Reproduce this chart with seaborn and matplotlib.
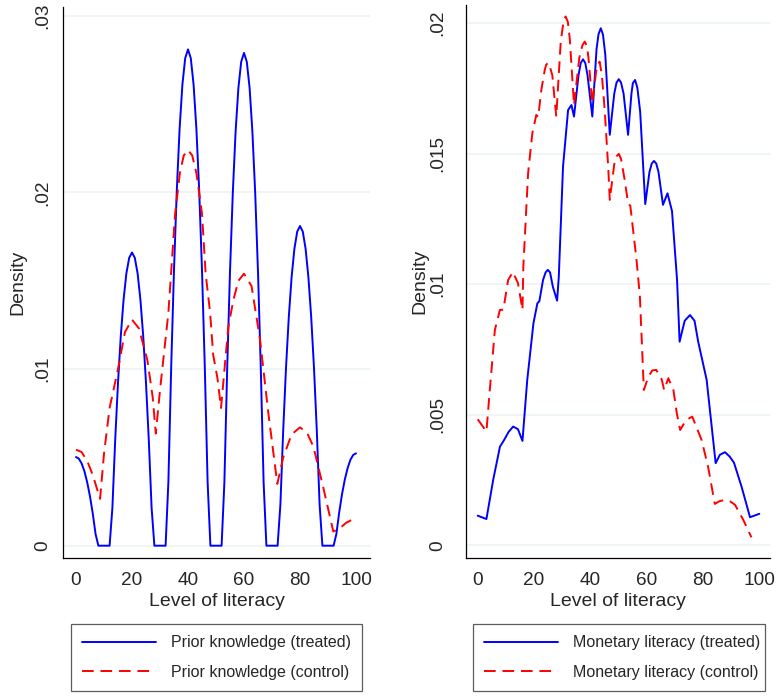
import pandas as pd
import matplotlib
matplotlib.use('Agg')
import matplotlib.pyplot as plt
import seaborn as sns

sns.set_style('white')
plt.rcParams['font.family'] = ['Liberation Sans', 'DejaVu Sans']

# left panel: prior knowledge
prior_treated_x = list(range(0, 101))
prior_treated_y = [0.00502, 0.00493, 0.00466, 0.00422, 0.00359, 0.00279, 0.00181, 0.00065,
                   0, 0, 0, 0, 0,
                   0.00214, 0.00598, 0.00922, 0.01188, 0.01394, 0.01542, 0.01630, 0.0166,
                   0.01630, 0.01542, 0.01394, 0.01188, 0.00922, 0.00598, 0.00214,
                   0, 0, 0, 0, 0,
                   0.00362, 0.01012, 0.01561, 0.02011, 0.02360, 0.02610, 0.02760, 0.0281,
                   0.02760, 0.02610, 0.02360, 0.02011, 0.01561, 0.01012, 0.00362,
                   0, 0, 0, 0, 0,
                   0.00360, 0.01004, 0.01550, 0.01997, 0.02344, 0.02592, 0.02740, 0.0279,
                   0.02740, 0.02592, 0.02344, 0.01997, 0.01550, 0.01004, 0.00360,
                   0, 0, 0, 0, 0,
                   0.00233, 0.00652, 0.01006, 0.01295, 0.01520, 0.01681, 0.01778, 0.0181,
                   0.01778, 0.01681, 0.01520, 0.01295, 0.01006, 0.00652, 0.00233,
                   0, 0, 0, 0, 0,
                   0.00067, 0.00188, 0.00291, 0.00374, 0.00439, 0.00486, 0.00514, 0.00523]

prior_control_x = [0, 2, 4, 6, 8.6, 10, 12, 15, 17.5, 20, 22.5, 25.5, 27.4, 28.5, 30, 33, 35.4,
                   37.1, 38.5, 40, 41.5, 43, 45, 46.3, 47.9, 49, 50.5, 51.8, 54.4, 56.2, 58, 60,
                   62.7, 65.7, 68.7, 71.9, 74, 77, 80, 82.5, 84.8, 88.3, 91.9, 94.3, 96.5, 98.5]
prior_control_y = [0.00544, 0.00530, 0.00480, 0.00400, 0.00265, 0.0052, 0.0078, 0.0100, 0.0121,
                   0.0128, 0.0123, 0.0105, 0.0084, 0.00635, 0.0088, 0.0132, 0.0188, 0.0211,
                   0.0221, 0.0224, 0.0221, 0.0211, 0.0188, 0.0154, 0.0132, 0.0108, 0.0095,
                   0.0078, 0.0124, 0.0139, 0.0150, 0.0154, 0.0147, 0.0117, 0.0075, 0.0035,
                   0.0050, 0.0063, 0.0067, 0.0064, 0.0056, 0.0033, 0.0008, 0.0010, 0.0013,
                   0.00146]

# right panel: monetary literacy
money_treated_x = [0, 3.1, 5.5, 7.9, 9.4, 11, 12.6, 14.3, 15.9, 17.6, 19.8, 21.2, 21.9, 23.2,
                   24.1, 24.9, 25.7, 26.7, 28.2, 28.8, 30.3, 32.1, 33.3, 34.2, 35.8, 36.6,
                   37.4, 38.2, 39, 40.7, 42.2, 42.9, 43.7, 44.5, 45.3, 46.9, 48.5, 49.3, 50.1,
                   50.9, 51.8, 53.4, 54.6, 55.1, 55.9, 56.7, 57.7, 59.5, 61, 61.8, 62.6, 63.4,
                   64.2, 65.8, 67.4, 69, 70.8, 71.7, 73.5, 75.4, 77, 78.3, 81.3, 84.5, 86,
                   87.8, 89.5, 91, 93.7, 96.7, 100]
money_treated_y = [0.00114, 0.00101, 0.00251, 0.00378, 0.00404, 0.00435, 0.00455, 0.00445,
                   0.0040, 0.00634, 0.00851, 0.00927, 0.00935, 0.01016, 0.01045, 0.01055,
                   0.01045, 0.0099, 0.00937, 0.01029, 0.0145, 0.01667, 0.01686, 0.01642,
                   0.0180, 0.01847, 0.01861, 0.01847, 0.0180, 0.01642, 0.0190, 0.01957,
                   0.0198, 0.01955, 0.0188, 0.01572, 0.0173, 0.01772, 0.01785, 0.01772,
                   0.0173, 0.01572, 0.0173, 0.0177, 0.01782, 0.01752, 0.0166, 0.01307,
                   0.0143, 0.01462, 0.01472, 0.01462, 0.0143, 0.01304, 0.01348, 0.0128,
                   0.01016, 0.0078, 0.0086, 0.00882, 0.0086, 0.0078, 0.00634, 0.00315,
                   0.00347, 0.00357, 0.0034, 0.00317, 0.00225, 0.00108, 0.00121]

money_control_x = [0, 3.1, 4.3, 6.1, 7.9, 9.1, 10.8, 12.5, 14.3, 15.9, 16.2, 17.9, 19.4, 20.8,
                   21.5, 22.6, 23.8, 24.3, 25.0, 25.7, 26.5, 27.9, 29.5, 30.4, 31.2, 32.0,
                   32.7, 34.2, 36.1, 37.2, 38.0, 38.8, 39.3, 40.7, 42, 42.6, 43.3, 44.1, 45.1,
                   46.4, 46.9, 48.5, 49.3, 50.1, 50.9, 52.2, 53.4, 54.2, 56.4, 57.6, 59.0,
                   60.6, 62, 63.4, 65.4, 66.2, 67.7, 69.5, 70.7, 71.9, 74, 76.2, 79.5, 81.8,
                   84.2, 86, 87.8, 89.5, 91.4, 94.3, 97.2]
money_control_y = [0.00483, 0.00436, 0.00595, 0.00825, 0.00902, 0.00902, 0.01016, 0.01047,
                   0.01004, 0.00902, 0.01067, 0.01425, 0.01578, 0.01648, 0.0164, 0.01744,
                   0.0182, 0.0184, 0.01848, 0.0183, 0.0180, 0.01642, 0.0193, 0.0200, 0.02025,
                   0.02005, 0.0194, 0.01686, 0.01868, 0.01915, 0.01929, 0.01912, 0.0187,
                   0.01693, 0.0181, 0.0184, 0.01852, 0.0180, 0.01667, 0.01438, 0.01323,
                   0.0146, 0.0149, 0.01499, 0.0148, 0.01399, 0.0131, 0.0130, 0.01093, 0.00953,
                   0.00595, 0.00646, 0.0067, 0.00672, 0.00634, 0.00595, 0.0064, 0.00595,
                   0.00506, 0.00442, 0.0048, 0.00493, 0.00404, 0.00302, 0.00159, 0.0017,
                   0.00174, 0.0017, 0.00155, 0.00098, 0.00031]

x_ticks = [0, 20, 40, 60, 80, 100]
left_yticks = [0, 0.01, 0.02, 0.03]
left_ylabels = ['0', '.01', '.02', '.03']
right_yticks = [0, 0.005, 0.01, 0.015, 0.02]
right_ylabels = ['0', '.005', '.01', '.015', '.02']

left_labels = ['Prior knowledge (treated)', 'Prior knowledge (control)']
right_labels = ['Monetary literacy (treated)', 'Monetary literacy (control)']

W, H = 779, 697
fig = plt.figure(figsize=(W / 100, H / 100), dpi=100)
fig.patch.set_facecolor('white')

dash = (0, (6, 3.5))
grid_c = '#EAF2F3'


def px_axes(x0, x1, y0, y1):
    # axes rectangle from pixel edges
    return fig.add_axes([x0 / W, 1 - y1 / H, (x1 - x0) / W, (y1 - y0) / H])


def style(ax, yticks, ylabels, xlim, ylim, ypad, ylabpad):
    ax.set_xlim(*xlim)
    ax.set_ylim(*ylim)
    ax.set_xticks(x_ticks)
    ax.set_xticklabels([str(t) for t in x_ticks], fontsize=13.7)
    ax.set_yticks(yticks)
    ax.set_yticklabels(ylabels, rotation=90, va='center', fontsize=13.7)
    ax.tick_params(axis='both', length=5, width=0.9, color='black', direction='out')
    ax.tick_params(axis='x', pad=5.5)
    ax.tick_params(axis='y', pad=ypad)
    ax.yaxis.grid(True, color=grid_c, lw=1.1)
    ax.xaxis.grid(False)
    ax.set_axisbelow(True)
    for s in ['top', 'right']:
        ax.spines[s].set_visible(False)
    for s in ['left', 'bottom']:
        ax.spines[s].set_color('black')
        ax.spines[s].set_linewidth(0.9)
    ax.set_xlabel('Level of literacy', fontsize=14, labelpad=3)
    ax.set_ylabel('Density', fontsize=14, labelpad=ylabpad)


def add_legend(ax, labels, box):
    h, _ = ax.get_legend_handles_labels()
    if ax.get_legend() is not None:
        ax.get_legend().remove()
    x0, x1, y0, y1 = box
    leg = ax.legend(h, labels, loc='upper left', mode='expand',
                    bbox_to_anchor=(x0 / W, 1 - y0 / H, (x1 - x0) / W, 0),
                    bbox_transform=fig.transFigure,
                    fontsize=11.5, frameon=True, fancybox=False, edgecolor='#333333',
                    handlelength=4.6, handletextpad=0.95, labelspacing=0.9,
                    borderpad=0.72, borderaxespad=0)
    leg.get_frame().set_linewidth(0.9)


# left
ax1 = px_axes(63, 370, 7, 557.7)
sns.lineplot(x=prior_treated_x, y=prior_treated_y, ax=ax1, color='#0000FF', lw=1.4,
             label=left_labels[0], estimator=None, sort=False)
sns.lineplot(x=prior_control_x, y=prior_control_y, ax=ax1, color='#FF0000', lw=1.4,
             linestyle=dash, label=left_labels[1], estimator=None, sort=False)
style(ax1, left_yticks, left_ylabels, (-4.64, 105.0), (-0.00068, 0.0305), 3.8, 5.5)
add_legend(ax1, left_labels, (70.7, 362, 624, 690))

# right
ax2 = px_axes(465.7, 770, 5, 557.7)
sns.lineplot(x=money_treated_x, y=money_treated_y, ax=ax2, color='#0000FF', lw=1.4,
             label=right_labels[0], estimator=None, sort=False)
sns.lineplot(x=money_control_x, y=money_control_y, ax=ax2, color='#FF0000', lw=1.4,
             linestyle=dash, label=right_labels[1], estimator=None, sort=False)
style(ax2, right_yticks, right_ylabels, (-4.26, 103.8), (-0.00047, 0.02069), 9.3, 0.5)
add_legend(ax2, right_labels, (472.7, 765.3, 624, 690))

fig.savefig('out.png', dpi=100, facecolor='white')
